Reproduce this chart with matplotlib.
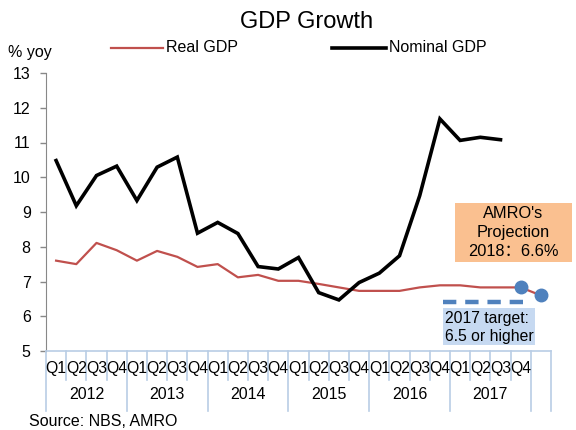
import matplotlib
matplotlib.use("Agg")
import matplotlib.pyplot as plt
from matplotlib.patches import Rectangle
from matplotlib.lines import Line2D
import matplotlib.transforms as mtransforms

plt.rcParams['font.family'] = ['Liberation Sans', 'Noto Sans CJK SC', 'DejaVu Sans']

years = ["2012", "2013", "2014", "2015", "2016", "2017"]
quarters = ["Q1", "Q2", "Q3", "Q4"]
# 2012Q1 .. 2017Q4, then 2018 projection
real_gdp = [7.60, 7.50, 8.11, 7.90, 7.60, 7.88, 7.71, 7.42, 7.50, 7.12, 7.19, 7.02,
            7.02, 6.93, 6.83, 6.73, 6.73, 6.73, 6.83, 6.89, 6.89, 6.83, 6.83, 6.83, 6.60]
nominal_gdp = [10.48, 9.18, 10.05, 10.32, 9.33, 10.29, 10.58, 8.39, 8.70, 8.38, 7.43, 7.36,
               7.69, 6.68, 6.47, 6.97, 7.24, 7.74, 9.47, 11.68, 11.06, 11.15, 11.08]
marker_idx = [23, 24]
target_level = 6.4
target_span = [19.15, 23.5]

RED = "#C0504D"
BLUE = "#4F81BD"
SEP = "#B9CDE5"

fig = plt.figure(figsize=(5.76, 4.30), dpi=100)
ax = fig.add_axes([46/576, 1-351/430, 505/576, 278/430])

x_real = list(range(len(real_gdp)))
x_nom = list(range(len(nominal_gdp)))
ax.plot(x_real, real_gdp, color=RED, lw=1.6, solid_joinstyle='round', zorder=3)
ax.plot(x_nom, nominal_gdp, color="black", lw=2.6, solid_joinstyle='miter', zorder=4)
ax.plot(marker_idx, [real_gdp[i] for i in marker_idx], 'o', color=BLUE, ms=9, zorder=5)
ax.plot(target_span, [target_level, target_level], color=BLUE, lw=3.2,
        dashes=(3, 2), zorder=5)

ax.set_xlim(-0.5, len(real_gdp) - 0.5)
ax.set_ylim(5, 13)
ax.set_yticks(range(5, 14))
ax.tick_params(axis='y', direction='out', length=4, width=1, color='#888888',
               labelsize=11.5, pad=7)
ax.set_xticks([])
for s in ['top', 'right']:
    ax.spines[s].set_visible(False)
ax.spines['left'].set_color('#888888')
ax.spines['bottom'].set_color(SEP)
ax.spines['bottom'].set_linewidth(1.2)

trans = mtransforms.blended_transform_factory(ax.transData, ax.transAxes)
n = len(real_gdp)
for k in range(n + 1):
    long = (k % 4 == 0) or k == n
    y1 = -0.215 if long else -0.105
    ax.add_line(Line2D([k - 0.5, k - 0.5], [0, y1], transform=trans, color=SEP,
                       lw=1.2, clip_on=False))

for i in range(len(years) * 4):
    ax.text(i, -0.062, quarters[i % 4], transform=trans, ha='center', va='center',
            fontsize=11.3)
for j, yr in enumerate(years):
    ax.text(j * 4 + 1.5, -0.158, yr, transform=trans, ha='center', va='center',
            fontsize=11.5)

fig.text(307/576, 1-22/430, "GDP Growth", ha='center', va='center', fontsize=17)
fig.text(8/576, 1-52/430, "% yoy", ha='left', va='center', fontsize=11.5)
fig.text(29/576, 1-421/430, "Source: NBS, AMRO", ha='left', va='center', fontsize=11.5)

# legend
fig.add_artist(Line2D([111/576, 163/576], [1-48/430, 1-48/430], color=RED, lw=1.6))
fig.text(166/576, 1-47/430, "Real GDP", ha='left', va='center', fontsize=11.5)
fig.add_artist(Line2D([332/576, 386/576], [1-48/430, 1-48/430], color='black', lw=2.6))
fig.text(389/576, 1-47/430, "Nominal GDP", ha='left', va='center', fontsize=11.5)

# annotation boxes
fig.add_artist(Rectangle((455/576, 1-262/430), 117/576, 59/430, transform=fig.transFigure,
                         facecolor="#FAC090", edgecolor='none', zorder=6))
for t, yy in [("AMRO's", 213), ("Projection", 232), ("2018：6.6%", 251)]:
    fig.text(513/576, 1-yy/430, t, ha='center', va='center', fontsize=11.8, zorder=7)

fig.add_artist(Rectangle((443/576, 1-345/430), 92/576, 37/430, transform=fig.transFigure,
                         facecolor="#C6D9F1", edgecolor='none', zorder=6))
fig.text(445/576, 1-318/430, "2017 target:", ha='left', va='center', fontsize=11.3, zorder=7)
fig.text(445/576, 1-336/430, "6.5 or higher", ha='left', va='center', fontsize=11.3, zorder=7)

fig.savefig("out.png", dpi=100)
